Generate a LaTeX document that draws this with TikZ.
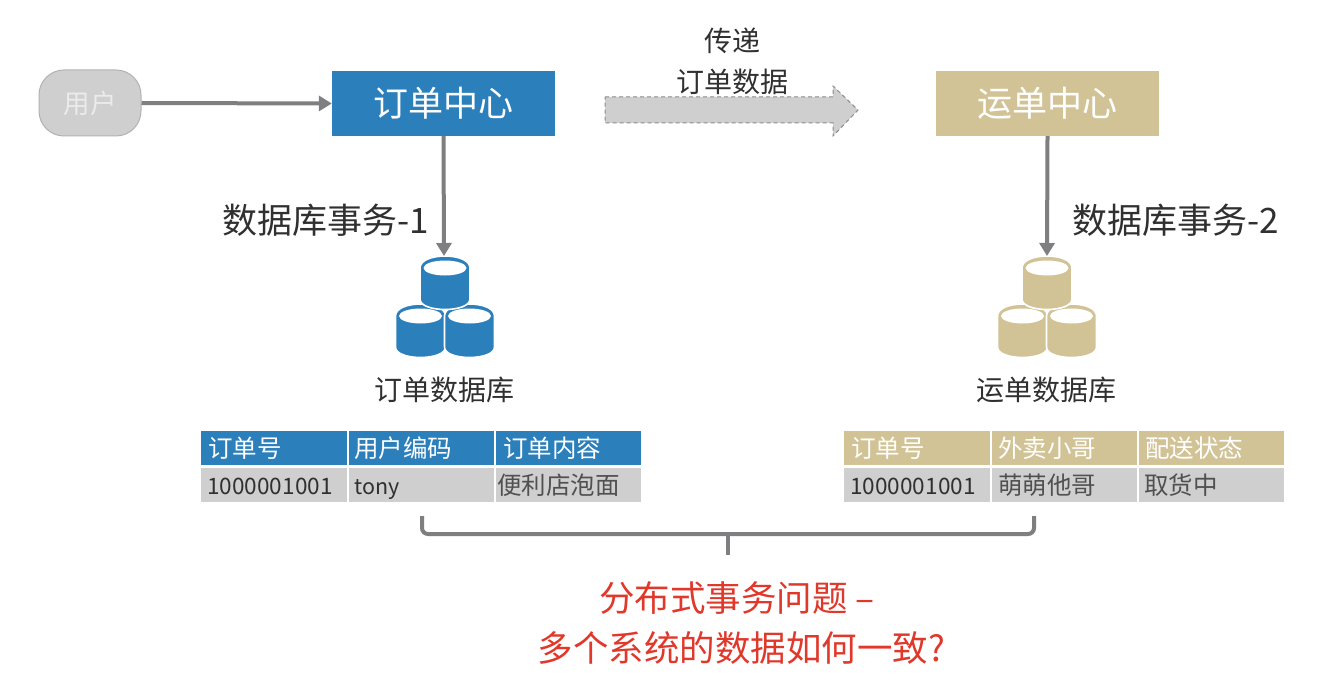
\documentclass[tikz,border=0pt]{standalone}
\usepackage{fontspec}
\setmainfont{Noto Sans CJK SC}
\usetikzlibrary{arrows.meta}
\definecolor{bluec}{HTML}{2B7FBB}
\definecolor{tanc}{HTML}{D2C396}
\definecolor{greyc}{HTML}{CFCFCF}
\definecolor{linec}{HTML}{7F7F82}
\definecolor{redc}{HTML}{E0392B}
\definecolor{inkc}{HTML}{303030}
\definecolor{softc}{HTML}{505050}
\newcommand{\fs}[1]{\fontsize{#1}{#1}\selectfont}
\newcommand{\dbcylinder}[3]{%
  \begin{scope}[shift={(#1,#2)}]
    \filldraw[fill=#3,draw=white,line width=1.6pt] (-25,-15) -- (-25,16) .. controls (-25,30) and (25,30) .. (25,16) -- (25,-15) .. controls (25,-31) and (-25,-31) .. (-25,-15) -- cycle;
    \fill[white] (0,-15) ellipse[x radius=21.5,y radius=7.5];
  \end{scope}}
\tikzset{
  x=1pt,y=-1pt,
  centerbox/.style={draw=none,minimum width=223pt,minimum height=65pt,inner sep=0pt,text=white,font=\fs{35}},
  flow/.style={draw=linec,line width=4pt,-{Triangle[length=13pt,width=15pt]}},
  cell/.style={anchor=north west,minimum height=34pt,text width=132pt,inner ysep=0pt,inner xsep=7pt,align=left,text height=22pt,text depth=4pt},
  headcell/.style={cell,text=white,font=\fs{24.5}},
  bodycell/.style={cell,fill=greyc,text=softc,font=\fs{24.5}},
  numcell/.style={cell,fill=greyc,text=inkc,font=\fs{22.6}},
  label/.style={inner sep=0pt,text=inkc},
}
\begin{document}
\begin{tikzpicture}
\path[use as bounding box,fill=white] (0,0) rectangle (1324,695);

% top row
\node[draw=black!30,fill=greyc,line width=1pt,rounded corners=25pt,minimum width=102pt,minimum height=66pt,inner sep=0pt,text=white!92!black,font=\fs{26.5}] (user) at (90,103) {用户};
\node[centerbox,fill=bluec] (order) at (443.5,103.5) {订单中心};
\node[centerbox,fill=tanc] (ship) at (1047.5,103.5) {运单中心};

% transfer arrow
\draw[draw=black!45,line width=1pt,fill=greyc,dash pattern=on 4pt off 3pt] (605,97) -- (833,97) -- (833,86) -- (858,110) -- (833,136) -- (833,123) -- (605,123) -- cycle;
\node[label,font=\fs{28}] (pass) at (732,41) {传递};
\node[label,font=\fs{28}] (passdata) at (732,82) {订单数据};

% databases
\dbcylinder{420.5}{331}{bluec}
\dbcylinder{469.5}{331}{bluec}
\dbcylinder{445}{283}{bluec}
\dbcylinder{1022.5}{331}{tanc}
\dbcylinder{1071.5}{331}{tanc}
\dbcylinder{1047}{283}{tanc}
\coordinate (db1) at (444,256);
\coordinate (db2) at (1047,256);

% connectors
\draw[flow] (user.east) -- (order.west);
\draw[flow] (order.south) -- (db1);
\draw[flow] (ship.south) -- (db2);

\node[label,font=\fs{35},anchor=east] (tx1) at (429,220) {数据库事务-1};
\node[label,font=\fs{35},anchor=west] (tx2) at (1072,220) {数据库事务-2};
\node[label,font=\fs{28}] (db1label) at (444,390) {订单数据库};
\node[label,font=\fs{28}] (db2label) at (1046,390) {运单数据库};

% left table
\node[headcell,fill=bluec] (a1) at (201,431) {订单号};
\node[headcell,fill=bluec,text width=131pt] (a2) at (349,431) {\hspace*{-2pt}用户编码};
\node[headcell,fill=bluec,text width=131pt] (a3) at (496,431) {订单内容};
\node[numcell] (b1) at (201,468) {\hspace*{-1pt}1000001001};
\node[numcell,text width=131pt,font=\fs{21.5}] (b2) at (349,468) {\hspace*{-2pt}tony};
\node[bodycell,text width=131pt] (b3) at (496,468) {\hspace*{-6pt}便利店泡面};

% right table
\node[headcell,fill=tanc] (c1) at (844,431) {订单号};
\node[headcell,fill=tanc,text width=131pt] (c2) at (992,431) {\hspace*{-1pt}外卖小哥};
\node[headcell,fill=tanc,text width=131pt] (c3) at (1139,431) {\hspace*{-1pt}配送状态};
\node[numcell] (d1) at (844,468) {\hspace*{-1pt}1000001001};
\node[bodycell,text width=131pt] (d2) at (992,468) {\hspace*{-1pt}萌萌他哥};
\node[bodycell,text width=131pt] (d3) at (1139,468) {\hspace*{-2pt}取货中};

% bracket
\coordinate (brL) at (422,516);
\coordinate (brR) at (1034,516);
\coordinate (brM) at (728,534);
\coordinate (brB) at (728,555);
\draw[linec,line width=4pt,rounded corners=6pt] (brL) |- (brM) -| (brR);
\draw[linec,line width=4pt] (brM) -- (brB);

\node[text=redc,inner sep=0pt,font=\fs{35.5}] (q1) at (737,598) {分布式事务问题 –};
\node[text=redc,inner sep=0pt,font=\fs{35.5}] (q2) at (741.5,648) {多个系统的数据如何一致?};
\end{tikzpicture}
\end{document}
